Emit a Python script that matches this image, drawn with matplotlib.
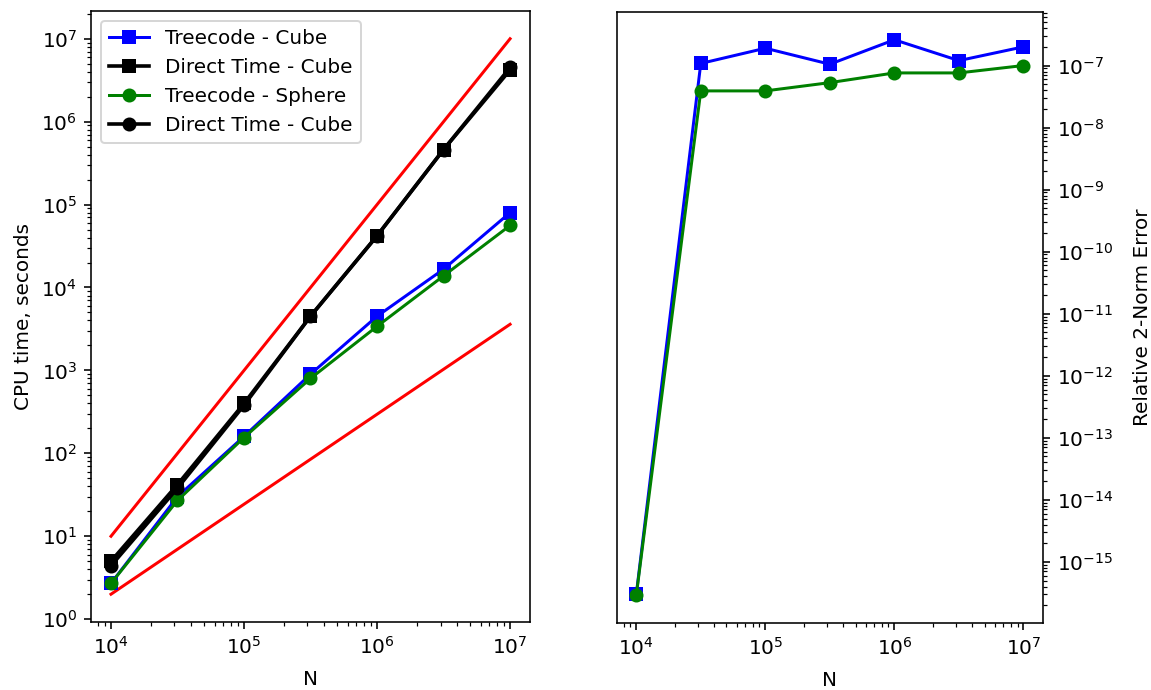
import matplotlib
matplotlib.use("Agg")
import matplotlib.pyplot as plt
from matplotlib.ticker import LogLocator, NullFormatter
import numpy as np

# --- DATA ---
N = [1e4, 3.16e4, 1e5, 3.16e5, 1e6, 3.16e6, 1e7]

tree_cube_time = [2.7, 30, 160, 900, 4500, 16600, 80000]
direct_cube_time = [5.0, 42, 400, 4500, 42000, 460000, 4.2e6]
tree_sphere_time = [2.7, 27, 155, 800, 3400, 13800, 56000]
direct_cube_time2 = [4.4, 38, 380, 4500, 42000, 460000, 4.5e6]

# reference slopes (endpoints only)
ref_N = [1e4, 1e7]
ref_n2 = [10, 1e7]
ref_nlogn = [2, 3600]

tree_cube_err = [3.0e-16, 1.08e-7, 1.9e-7, 1.05e-7, 2.6e-7, 1.2e-7, 2.0e-7]
tree_sphere_err = [2.9e-16, 3.9e-8, 3.9e-8, 5.3e-8, 7.6e-8, 7.6e-8, 1.0e-7]

DPI = 144
fig = plt.figure(figsize=(1151 / DPI, 690 / DPI), dpi=DPI)

ax1 = fig.add_axes([0.0791, 0.0986, 0.3814, 0.8855])
ax2 = fig.add_axes([0.536, 0.0971, 0.370, 0.8855])

# --- LEFT: CPU time ---
ax1.loglog(ref_N, ref_n2, color='red')
ax1.loglog(ref_N, ref_nlogn, color='red')
ax1.loglog(N, tree_cube_time, 'bs-', label='Treecode - Cube')
ax1.loglog(N, direct_cube_time, 'ks-', linewidth=1.8, label='Direct Time - Cube')
ax1.loglog(N, tree_sphere_time, 'go-', label='Treecode - Sphere')
ax1.loglog(N, direct_cube_time2, 'ko-', linewidth=1.8, label='Direct Time - Cube')
ax1.set_xlabel('N', labelpad=6)
ax1.set_ylabel('CPU time, seconds')
ax1.legend(loc='upper left')

# --- RIGHT: error ---
ax2.loglog(N, tree_cube_err, 'bs-')
ax2.loglog(N, tree_sphere_err, 'go-')
ax2.set_xlabel('N', labelpad=6)
ax2.yaxis.tick_right()
ax2.yaxis.set_label_position('right')
ax2.set_ylabel('Relative 2-Norm Error', labelpad=10)

for ax in (ax1, ax2):
    ax.yaxis.set_major_locator(LogLocator(base=10, numticks=30))
    ax.yaxis.set_minor_locator(LogLocator(base=10, subs=np.arange(2, 10), numticks=100))
    ax.yaxis.set_minor_formatter(NullFormatter())
    ax.xaxis.set_minor_formatter(NullFormatter())

fig.savefig('out.png', dpi=DPI)
